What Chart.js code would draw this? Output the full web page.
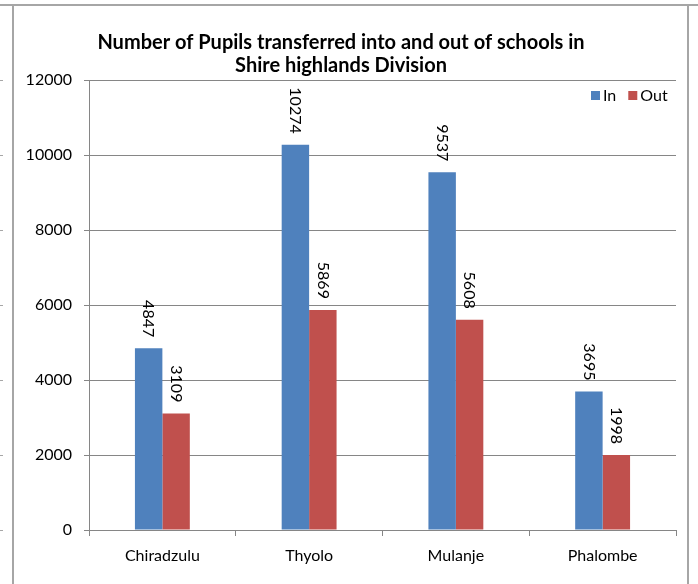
<!DOCTYPE html>
<html>
<head>
<meta charset="utf-8">
<script src="https://cdn.jsdelivr.net/npm/chart.js@4/dist/chart.umd.min.js"></script>
<style>
  html, body { margin: 0; padding: 0; background: #fff; }
  #wrap { width: 698px; height: 584px; position: relative; }
</style>
</head>
<body>
<div id="wrap"><canvas id="pupilsChart" width="698" height="584"></canvas></div>
<script>
const districts = ['Chiradzulu', 'Thyolo', 'Mulanje', 'Phalombe'];
const pupilsIn = [4847, 10274, 9537, 3695];
const pupilsOut = [3109, 5869, 5608, 1998];
const yTicks = [0, 2000, 4000, 6000, 8000, 10000, 12000];
const titleLines = ['Number of Pupils transferred into and out of schools in', 'Shire highlands Division'];

const FONT = 'Lato, "Open Sans", sans-serif';

// frame lines, title, legend and rotated value labels
const decorations = {
    id: 'decorations',
    beforeDraw(chart) {
        const c = chart.ctx;
        c.save();
        c.strokeStyle = '#a6a6a6';
        c.lineWidth = 2;
        c.beginPath();
        c.moveTo(0, 5); c.lineTo(698, 5);
        c.moveTo(13, 5); c.lineTo(13, 584);
        c.moveTo(688, 5); c.lineTo(688, 584);
        c.stroke();
        c.lineWidth = 1;
        c.beginPath();
        chart.scales.y.ticks.forEach(t => {
            const y = Math.round(chart.scales.y.getPixelForValue(t.value)) + 0.5;
            c.moveTo(0, y); c.lineTo(3, y);
        });
        c.stroke();
        c.restore();
    },
    afterDraw(chart) {
        const c = chart.ctx;
        c.save();
        c.fillStyle = '#000';
        c.font = 'bold 20px ' + FONT;
        c.textAlign = 'center';
        c.textBaseline = 'middle';
        c.fillText(titleLines[0], 341, 43);
        c.fillText(titleLines[1], 341, 66);

        // legend
        c.font = '16px ' + FONT;
        c.textAlign = 'left';
        let lx = 591;
        chart.data.datasets.forEach(ds => {
            c.fillStyle = ds.backgroundColor;
            c.fillRect(lx, 91, 9, 9);
            c.fillStyle = '#000';
            c.fillText(ds.label, lx + 12, 96);
            lx += 12 + c.measureText(ds.label).width + 12;
        });

        // value labels, rotated
        c.font = '16px ' + FONT;
        c.textAlign = 'left';
        c.textBaseline = 'middle';
        chart.data.datasets.forEach((ds, i) => {
            chart.getDatasetMeta(i).data.forEach((bar, j) => {
                const txt = String(ds.data[j]);
                const w = c.measureText(txt).width;
                c.save();
                c.translate(bar.x, bar.y - 11 - w);
                c.rotate(Math.PI / 2);
                c.fillText(txt, 0, 0);
                c.restore();
            });
        });
        c.restore();
    }
};

const ctx = document.getElementById('pupilsChart').getContext('2d');
const pupilsChart = new Chart(ctx, {
    type: 'bar',
    data: {
        labels: districts,
        datasets: [{
            label: 'In',
            data: pupilsIn,
            backgroundColor: '#4F81BD',
            borderWidth: 0
        }, {
            label: 'Out',
            data: pupilsOut,
            backgroundColor: '#C0504D',
            borderWidth: 0
        }]
    },
    options: {
        responsive: false,
        animation: false,
        devicePixelRatio: 1,
        layout: { padding: { left: 13, right: 22, top: 80, bottom: 0 } },
        datasets: {
            bar: { categoryPercentage: 0.374, barPercentage: 1 }
        },
        plugins: {
            legend: { display: false },
            title: { display: false },
            tooltip: { enabled: false }
        },
        scales: {
            x: {
                grid: { drawOnChartArea: false, color: '#868686', tickLength: 6, offset: true },
                border: { color: '#868686', width: 1 },
                ticks: { color: '#000', font: { family: FONT, size: 16 }, padding: 10 },
                afterFit(s) { s.height = 54; }
            },
            y: {
                min: 0,
                max: 12000,
                afterBuildTicks(s) { s.ticks = yTicks.map(v => ({ value: v })); },
                grid: { color: '#868686', tickLength: 5 },
                border: { color: '#868686', width: 1 },
                ticks: {
                    color: '#000', font: { family: FONT, size: 16 }, padding: 12,
                    callback: v => String(v)
                },
                afterFit(s) { s.width = 76; }
            }
        }
    },
    plugins: [decorations]
});
</script>
</body>
</html>
